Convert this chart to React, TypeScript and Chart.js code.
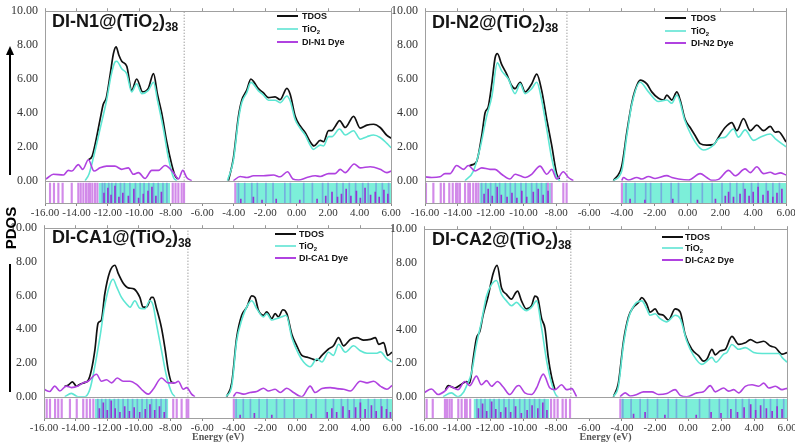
import React, { useEffect, useRef } from "react";
import { Chart, registerables } from "chart.js";
Chart.register(...registerables);

type Pt = [number, number | null];

const energyTicks = [-16, -14, -12, -10, -8, -6, -4, -2, 0, 2, 4, 6];
const pdosTicks = [0, 1, 2, 3, 4, 5, 6, 7, 8, 9, 10];

// ---------- DI-N1 ----------
const n1Tdos: Pt[] = [[-13.24,1.24],[-13.0,1.45],[-12.8,2.2],[-12.5,3.6],[-12.3,4.5],[-12.1,4.9],[-11.85,6.3],[-11.65,7.5],[-11.48,7.9],[-11.3,7.4],[-11.12,7.05],[-10.8,6.75],[-10.49,5.33],[-10.17,6.0],[-9.79,5.24],[-9.43,5.45],[-9.1,6.32],[-8.85,5.1],[-8.58,4.0],[-8.26,2.3],[-7.94,0.95],[-7.73,0.3],[-7.55,0.1],[-6,null],
[-4.34,0],[-4.02,1.33],[-3.7,3.8],[-3.49,4.75],[-3.17,5.35],[-2.91,6.0],[-2.7,5.8],[-2.43,5.43],[-2.11,5.18],[-1.79,4.9],[-1.37,4.95],[-1.05,4.78],[-0.62,5.45],[-0.41,5.1],[-0.09,3.8],[0.22,3.24],[0.54,2.85],[0.86,2.3],[1.1,2.05],[1.5,2.38],[1.71,2.3],[2.03,2.95],[2.24,2.95],[2.45,3.2],[2.73,3.55],[3.09,3.14],[3.62,3.8],[4.04,3.1],[4.47,3.28],[4.89,3.33],[5.31,3.14],[5.74,2.67],[6.0,2.51]];
const n1Ti: Pt[] = [[-13.45,0],[-13.2,0.4],[-12.93,1.33],[-12.5,3.05],[-12.08,4.76],[-11.8,6.2],[-11.55,7.0],[-11.44,7.05],[-11.12,6.6],[-10.8,6.3],[-10.49,5.24],[-10.17,5.71],[-9.85,5.14],[-9.43,5.33],[-9.1,5.81],[-8.85,4.76],[-8.47,3.05],[-8.15,1.33],[-7.83,0.19],[-7.62,0],[-6,null],
[-4.4,0],[-4.02,1.2],[-3.7,3.6],[-3.49,4.6],[-3.17,5.2],[-2.91,5.8],[-2.43,5.3],[-2.11,5.05],[-1.79,4.75],[-1.37,4.75],[-1.05,4.6],[-0.62,5.0],[-0.41,4.7],[-0.09,3.6],[0.22,3.1],[0.54,2.7],[0.86,2.1],[1.05,1.85],[1.5,2.1],[1.71,2.05],[2.03,2.6],[2.24,2.6],[2.73,3.05],[3.09,2.7],[3.62,2.95],[4.04,2.45],[4.47,2.6],[4.89,2.7],[5.31,2.55],[5.74,2.2],[6.0,1.95]];
const n1Dye: Pt[] = [[-16,0.08],[-15.89,0.13],[-15.47,0.38],[-14.83,0.34],[-14.52,0.61],[-14.3,0.57],[-13.88,0.95],[-13.6,0.67],[-13.24,1.24],[-12.88,0.57],[-12.5,0.76],[-12.08,0.86],[-11.55,0.86],[-11.12,0.67],[-10.7,0.76],[-10.38,0.38],[-10.06,0.48],[-9.64,0.13],[-9.21,0.61],[-8.79,0.61],[-8.37,0.9],[-7.83,0.48],[-7.52,0.1],[-7.24,0.61],[-6.99,0.19],[-6.67,0],[-5.5,null],
[-4.02,0],[-3.59,0.25],[-3.17,0.19],[-2.74,0.29],[-2.11,0.29],[-1.47,0.34],[-1.05,0.23],[-0.58,0.53],[-0.24,0.1],[0.12,0.04],[0.65,0.19],[1.18,0.29],[1.5,0.25],[2.03,0.42],[2.45,0.42],[2.77,0.67],[3.09,0.48],[3.66,0.99],[4.04,0.76],[4.68,0.82],[5.31,0.67],[5.74,0.48],[6.0,0.57]];
const n1DyeSticks = [-15.68,-15.43,-15.15,-14.88,-14.3,-13.88,-13.73,-13.56,-13.39,-13.24,-13.14,-12.99,-12.82,-12.67,-7.88,-7.7,-7.52,-7.31,-7.16,-3.9];
const n1Bands: [number, number][] = [[-12.6,-8.05],[-3.92,6.0]];
const n1Blue = [-12.35,-12.2,-11.95,-11.75,-11.5,-11.2,-10.95,-10.6,-10.25,-9.95,-9.7,-9.4,-9.1,-8.8,-8.5,-8.25,-3.7,-3.3,-2.85,-2.5,-1.95,-1.5,-0.75,-0.4,0.45,1.0,1.65,2.0,2.55,2.95,3.35,3.75,4.2,4.55,5.05,5.45,5.85];
const n1Bars: [number, number][] = [[-12.25,0.5],[-12.0,0.75],[-11.8,0.4],[-11.55,0.85],[-11.3,0.3],[-11.05,0.5],[-10.7,0.35],[-10.35,0.7],[-10.05,0.25],[-9.75,0.45],[-9.45,0.6],[-9.2,0.8],[-8.95,0.35],[-8.6,0.55],[-3.55,0.2],[-2.75,0.3],[-2.2,0.15],[-1.3,0.2],[0.2,0.15],[1.3,0.2],[1.85,0.35],[2.25,0.55],[2.6,0.3],[2.85,0.45],[3.15,0.7],[3.45,0.35],[3.8,0.6],[4.05,0.25],[4.35,0.75],[4.7,0.4],[5.0,0.55],[5.25,0.3],[5.55,0.65],[5.8,0.45]];

// ---------- DI-N2 ----------
const n2Tdos: Pt[] = [[-13.3,0.88],[-13.1,0.95],[-12.85,1.14],[-12.54,2.67],[-12.34,4.0],[-12.14,4.38],[-11.93,5.71],[-11.73,7.24],[-11.59,7.5],[-11.33,6.86],[-11.02,6.29],[-10.72,5.62],[-10.51,5.43],[-10.2,5.81],[-9.9,5.24],[-9.5,5.71],[-9.19,6.29],[-8.89,5.33],[-8.58,3.62],[-8.28,2.1],[-7.97,0.38],[-7.8,0.1],[-6,null],
[-4.52,0],[-4.01,0.86],[-3.7,2.86],[-3.4,4.57],[-3.2,5.33],[-2.89,5.94],[-2.48,5.71],[-2.18,5.24],[-1.77,4.86],[-1.47,4.76],[-1.26,5.05],[-0.96,4.76],[-0.65,5.24],[-0.45,4.76],[-0.15,3.62],[0.16,3.14],[0.46,2.67],[0.77,2.19],[1.17,2.1],[1.58,2.13],[1.89,2.57],[2.29,3.14],[2.7,3.43],[3.0,2.95],[3.41,3.66],[3.82,2.95],[4.22,3.28],[4.63,2.95],[5.04,3.2],[5.34,2.86],[5.54,2.9],[6.0,2.29]];
const n2Ti: Pt[] = [[-13.56,0],[-13.05,0.57],[-12.65,1.9],[-12.24,3.81],[-11.93,4.95],[-11.59,6.95],[-11.33,6.48],[-10.92,6.0],[-10.51,5.14],[-10.2,5.71],[-9.9,5.14],[-9.5,5.43],[-9.19,5.81],[-8.89,4.76],[-8.58,3.05],[-8.28,1.33],[-7.97,0.19],[-7.77,0],[-6,null],
[-4.52,0],[-4.01,0.57],[-3.7,2.67],[-3.4,4.48],[-2.89,5.81],[-2.38,5.24],[-1.77,4.67],[-1.26,4.76],[-0.96,4.57],[-0.65,5.05],[-0.15,3.52],[0.46,2.29],[0.97,1.81],[1.58,2.1],[1.89,2.48],[2.29,2.57],[2.8,3.05],[3.1,2.57],[3.51,3.0],[4.02,2.38],[4.43,2.57],[5.04,2.76],[5.34,2.48],[6.0,2.0]];
const n2Dye: Pt[] = [[-16,0.23],[-15.59,0.19],[-15.09,0.23],[-14.78,0.42],[-14.48,0.42],[-14.07,0.9],[-13.66,0.67],[-13.36,0.9],[-12.95,0.57],[-12.54,0.76],[-12.04,0.67],[-11.73,0.67],[-11.33,0.38],[-10.82,0.1],[-10.51,0.38],[-10.2,0.29],[-9.9,0.19],[-9.5,0.38],[-8.99,0.86],[-8.58,0.38],[-8.28,0.67],[-7.97,0.1],[-7.57,0.53],[-7.26,0.19],[-6.96,0],[-5.5,null],
[-4.01,0],[-3.91,0.19],[-3.6,0.04],[-3.09,0.19],[-2.79,0.1],[-2.38,0.25],[-1.98,0.13],[-1.26,0.3],[-0.96,0.19],[-0.55,0.1],[0.06,0.04],[0.77,0.42],[1.17,0.19],[1.48,0.02],[1.89,0.08],[2.5,0.61],[2.9,0.29],[3.51,0.7],[3.82,0.48],[4.22,0.82],[4.63,0.42],[5.04,0.5],[5.34,0.38],[5.65,0.46],[6.0,0.34]];
const n2DyeSticks = [-15.94,-15.49,-15.04,-14.84,-14.52,-14.31,-14.11,-14.01,-13.87,-13.56,-13.36,-13.26,-13.06,-12.89,-12.75,-8.5,-8.28,-7.57,-7.37,-4.0];
const n2Bands: [number, number][] = [[-12.69,-8.3],[-4.01,6.0]];
const n2Blue = [-12.55,-12.3,-12.0,-11.7,-11.45,-11.1,-10.8,-10.5,-10.15,-9.85,-9.5,-9.2,-8.9,-8.6,-3.75,-3.2,-2.55,-2.25,-1.6,-1.0,-0.55,0.2,0.9,1.5,2.1,2.6,3.0,3.4,3.9,4.3,4.8,5.2,5.6];
const n2Bars: [number, number][] = [[-12.4,0.45],[-12.15,0.7],[-11.9,0.35],[-11.6,0.8],[-11.35,0.4],[-11.0,0.3],[-10.7,0.5],[-10.4,0.25],[-10.1,0.6],[-9.8,0.3],[-9.4,0.55],[-9.1,0.7],[-8.8,0.4],[-8.5,0.6],[-3.5,0.2],[-2.6,0.15],[-0.9,0.2],[0.6,0.15],[1.7,0.2],[2.3,0.35],[2.5,0.55],[2.8,0.3],[3.2,0.45],[3.5,0.7],[3.75,0.35],[4.0,0.55],[4.3,0.8],[4.6,0.4],[4.9,0.6],[5.2,0.3],[5.45,0.5],[5.75,0.7]];

// ---------- DI-CA1 ----------
const c1Tdos: Pt[] = [[-14.7,0.6],[-14.45,0.7],[-14.2,0.88],[-13.95,0.62],[-13.7,0.75],[-13.4,0.85],[-13.21,0.96],[-13.0,1.59],[-12.79,2.73],[-12.58,4.36],[-12.37,4.55],[-12.16,6.08],[-11.84,7.41],[-11.52,7.8],[-11.31,7.32],[-11.0,6.75],[-10.68,6.46],[-10.32,6.4],[-9.94,5.89],[-9.73,5.31],[-9.52,5.31],[-9.2,5.89],[-9.1,5.89],[-8.88,5.22],[-8.57,4.07],[-8.36,2.92],[-8.15,1.59],[-7.93,0.85],[-7.75,0.82],[-6,null],
[-4.45,0],[-4.13,0.82],[-3.82,3.5],[-3.5,4.83],[-3.18,5.31],[-2.87,5.98],[-2.66,5.89],[-2.44,5.12],[-2.13,4.83],[-1.92,5.03],[-1.6,4.64],[-1.39,4.93],[-1.18,4.74],[-0.9,5.16],[-0.65,4.93],[-0.33,3.69],[-0.02,3.02],[0.3,2.45],[0.62,2.35],[0.93,2.25],[1.25,2.16],[1.57,2.45],[1.99,2.83],[2.3,3.02],[2.62,3.5],[2.94,3.02],[3.36,3.4],[3.78,3.5],[4.21,3.36],[4.63,3.4],[4.95,3.5],[5.16,3.11],[5.47,3.21],[5.73,2.45],[6.0,2.64]];
const c1Ti: Pt[] = [[-14.69,0],[-14.27,0.2],[-13.85,0],[-13.42,0],[-13.1,0.44],[-12.79,1.78],[-12.47,3.5],[-12.16,5.4],[-11.84,6.65],[-11.63,6.97],[-11.42,6.55],[-11.1,5.89],[-10.78,5.5],[-10.57,5.31],[-10.26,5.69],[-9.94,5.25],[-9.62,5.22],[-9.31,5.69],[-9.1,5.41],[-8.88,4.26],[-8.57,2.73],[-8.25,1.2],[-7.93,0.25],[-7.72,0],[-6,null],
[-4.49,0],[-4.13,0.63],[-3.82,3.31],[-3.5,4.55],[-3.08,5.5],[-2.87,5.69],[-2.55,5.22],[-2.13,4.74],[-1.92,4.93],[-1.6,4.55],[-1.28,4.64],[-0.97,4.74],[-0.69,4.83],[-0.33,3.5],[0.09,2.54],[0.41,2.06],[0.83,1.78],[1.25,2.25],[1.57,2.06],[1.99,2.64],[2.3,2.45],[2.62,3.11],[3.05,2.64],[3.57,3.02],[3.99,2.73],[4.42,2.58],[5.05,2.58],[5.26,2.66],[5.68,2.25],[6.0,2.06]];
const c1Dye: Pt[] = [[-16,0.44],[-15.64,0.31],[-15.32,0.63],[-15.0,0.34],[-14.59,0.63],[-14.27,0.54],[-13.85,0.63],[-13.53,0.82],[-13.21,0.92],[-12.68,1.33],[-12.37,0.92],[-12.05,1.01],[-11.73,0.82],[-11.37,1.11],[-11.0,0.92],[-10.57,0.92],[-10.15,0.73],[-9.73,0.34],[-9.41,0.15],[-9.1,0.44],[-8.57,1.11],[-8.15,0.82],[-7.72,0.82],[-7.51,0.92],[-7.19,0.44],[-6.98,0.54],[-6.67,0.15],[-6.46,0],[-5.5,null],
[-4.03,0],[-3.82,0.25],[-3.39,0.15],[-2.97,0.25],[-2.55,0.31],[-2.13,0.5],[-1.81,0.34],[-1.39,0.44],[-1.07,0.25],[-0.65,0.5],[-0.23,0.25],[0.3,0],[0.83,0.63],[1.14,0.25],[1.57,0.48],[2.1,0.54],[2.52,0.48],[2.94,0.44],[3.36,0.34],[3.99,0.92],[4.42,0.82],[4.84,0.92],[5.26,0.63],[5.68,0.44],[6.0,0.67]];
const c1DyeSticks = [-15.83,-15.62,-15.3,-15.1,-14.88,-14.36,-13.93,-13.52,-13.3,-13.09,-12.88,-7.83,-7.61,-7.3,-6.98,-6.88,-4.0];
const c1Bands: [number, number][] = [[-12.78,-8.14],[-4.03,6.0]];
const c1Blue = [-12.6,-12.35,-12.1,-11.85,-11.55,-11.3,-11.0,-10.7,-10.4,-10.1,-9.8,-9.5,-9.2,-8.9,-8.6,-8.3,-3.85,-3.4,-2.95,-2.4,-1.9,-1.3,-0.8,-0.2,0.6,1.2,1.8,2.3,2.8,3.2,3.6,4.0,4.5,4.9,5.3,5.7];
const c1Bars: [number, number][] = [[-12.5,0.5],[-12.25,0.8],[-12.0,0.4],[-11.75,0.9],[-11.5,0.5],[-11.2,0.3],[-10.9,0.6],[-10.6,0.35],[-10.3,0.55],[-9.95,0.3],[-9.6,0.45],[-9.3,0.7],[-9.0,0.4],[-8.7,0.6],[-8.4,0.3],[-3.6,0.15],[-2.7,0.25],[-1.6,0.15],[0.9,0.2],[1.9,0.3],[2.2,0.5],[2.5,0.3],[2.9,0.6],[3.3,0.4],[3.7,0.55],[4.0,0.8],[4.3,0.45],[4.7,0.65],[5.0,0.35],[5.35,0.6],[5.65,0.45],[5.9,0.3]];

// ---------- DI-CA2 ----------
const c2Tdos: Pt[] = [[-14.7,0.4],[-14.54,0.66],[-14.14,0.52],[-13.8,0.7],[-13.43,0.9],[-13.23,0.81],[-13.02,2.25],[-12.82,3.5],[-12.62,3.89],[-12.42,4.86],[-12.11,6.01],[-11.81,7.36],[-11.57,7.84],[-11.3,6.49],[-11.0,6.11],[-10.7,5.82],[-10.45,6.2],[-10.33,6.3],[-10.09,5.72],[-9.79,5.24],[-9.48,5.43],[-9.28,6.01],[-9.12,5.92],[-8.87,4.66],[-8.67,4.08],[-8.47,2.35],[-8.27,1.19],[-8.06,0.42],[-6,null],
[-4.52,0],[-4.22,0.81],[-3.91,3.31],[-3.61,4.76],[-3.31,5.34],[-3.0,5.63],[-2.8,5.92],[-2.5,5.53],[-2.3,5.05],[-1.99,5.24],[-1.79,4.95],[-1.49,4.86],[-1.18,4.57],[-0.78,5.24],[-0.47,5.05],[-0.17,3.7],[0.23,2.83],[0.64,2.45],[0.94,2.12],[1.15,2.25],[1.45,2.83],[1.65,2.5],[1.96,2.74],[2.26,2.83],[2.66,3.6],[3.07,3.12],[3.47,3.22],[3.78,3.41],[4.18,3.22],[4.59,3.31],[5.0,3.02],[5.3,2.93],[5.7,2.54],[6.0,2.64]];
const c2Ti: Pt[] = [[-14.85,0],[-14.34,0.23],[-13.94,0],[-13.63,0.23],[-13.43,0.62],[-13.13,1.39],[-12.82,3.12],[-12.52,4.47],[-12.21,6.01],[-11.91,6.69],[-11.61,6.94],[-11.3,6.11],[-11.0,5.72],[-10.7,5.43],[-10.39,5.63],[-10.09,5.34],[-9.79,5.14],[-9.48,5.34],[-9.18,5.72],[-8.87,4.08],[-8.57,2.16],[-8.27,0.81],[-7.96,0.04],[-7.86,0],[-6,null],
[-4.52,0],[-4.22,0.62],[-3.91,3.12],[-3.61,4.66],[-3.21,5.53],[-2.8,5.72],[-2.5,5.24],[-2.3,4.86],[-1.99,4.95],[-1.69,4.66],[-1.28,4.47],[-0.78,4.86],[-0.47,4.66],[-0.07,3.31],[0.34,2.45],[0.84,1.93],[1.15,2.12],[1.45,2.35],[1.69,2.06],[2.16,2.54],[2.36,2.64],[2.66,3.12],[3.07,2.83],[3.47,2.93],[3.98,2.64],[4.49,2.58],[5.09,2.58],[5.5,2.58],[5.7,2.35],[6.0,2.06]];
const c2Dye: Pt[] = [[-16,0.23],[-15.55,0.46],[-15.15,0.13],[-14.74,0.33],[-14.44,0.62],[-13.94,0.42],[-13.53,0.91],[-13.23,0.66],[-12.82,1.23],[-12.52,0.71],[-12.21,0.96],[-11.91,0.62],[-11.55,0.91],[-11.2,0.58],[-10.8,0.13],[-10.39,0.62],[-10.25,0.67],[-9.89,0.23],[-9.48,0.13],[-9.18,0.52],[-8.77,1.35],[-8.37,0.52],[-8.06,0.42],[-7.66,0.71],[-7.36,0.42],[-7.05,0.48],[-6.75,0],[-5.5,null],
[-4.12,0],[-3.81,0.23],[-3.51,0.04],[-3.1,0.13],[-2.7,0.29],[-2.19,0.29],[-1.79,0.13],[-1.28,0.19],[-0.78,0.42],[-0.47,0.08],[-0.07,0],[0.54,0.23],[0.94,0.29],[1.35,0.66],[1.65,0.29],[2.16,0.52],[2.46,0.33],[2.77,0.42],[3.07,0.23],[3.47,0.62],[3.88,0.71],[4.28,0.62],[4.59,0.81],[4.89,0.52],[5.3,0.62],[5.7,0.42],[6.0,0.5]];
const c2DyeSticks = [-15.84,-15.47,-14.73,-14.6,-14.45,-14.32,-13.92,-13.72,-13.51,-13.41,-13.2,-8.3,-8.1,-7.9,-7.6,-7.4,-7.15,-4.1];
const c2Bands: [number, number][] = [[-13.0,-8.4],[-4.12,6.0]];
const c2Blue = [-12.8,-12.55,-12.3,-12.0,-11.75,-11.45,-11.15,-10.85,-10.55,-10.2,-9.9,-9.6,-9.3,-9.0,-8.7,-3.95,-3.45,-2.9,-2.45,-1.85,-1.2,-0.7,-0.1,0.7,1.3,1.9,2.4,2.9,3.3,3.7,4.1,4.6,5.0,5.4,5.8];
const c2Bars: [number, number][] = [[-12.7,0.5],[-12.45,0.75],[-12.2,0.35],[-11.9,0.85],[-11.65,0.45],[-11.35,0.3],[-11.05,0.55],[-10.75,0.3],[-10.45,0.6],[-10.1,0.25],[-9.75,0.4],[-9.45,0.65],[-9.1,0.5],[-8.8,0.8],[-8.55,0.4],[-3.3,0.2],[-2.6,0.3],[-1.4,0.15],[0.5,0.15],[1.4,0.3],[2.0,0.25],[2.6,0.45],[3.0,0.3],[3.4,0.55],[3.8,0.7],[4.1,0.4],[4.4,0.65],[4.75,0.5],[5.1,0.35],[5.4,0.6],[5.7,0.45]];

const fermiLevels = { n1: -7.15, n2: -7.35, c1: -6.9, c2: -7.1 };

const C_TDOS = "#111111";
const C_TI = "#5ee6d3";
const C_DYE = "#b042e0";
const C_BAND = "#7cefd9";
const C_STICK = "#d28ae9";
const C_BLUE = "rgba(110,120,225,0.55)";
const C_BAR = "#9435d4";
const C_FRAME = "#a0a0a0";
const SERIF = "'Liberation Serif', 'Times New Roman', serif";
const SANS = "'Liberation Sans', Arial, sans-serif";

type PanelCfg = {
  dyeName: string;
  tdos: Pt[]; ti: Pt[]; dye: Pt[];
  fermi: number;
  sticks: number[]; bands: [number, number][]; blue: number[]; bars: [number, number][];
  cx: number; cy: number; cw: number; ch: number;
  axisW: number; wPlot: number; wStrip: number; xH: number; energyTitle: boolean;
  titleX: number; titleBase: number;
  legX: number; legTextX: number; legY: number[];
};

const xy = (a: Pt[]) => a.map(([x, y]) => ({ x, y }));

const framePlugin = {
  id: "frame",
  afterDatasetsDraw(chart: any) {
    const { ctx, chartArea, scales } = chart;
    ctx.save();
    ctx.strokeStyle = C_FRAME;
    ctx.lineWidth = 1;
    const l = Math.round(chartArea.left) + 0.5;
    const w = Math.round(chartArea.right) - Math.round(chartArea.left);
    for (const id of ["y", "y2"]) {
      const s = scales[id];
      ctx.strokeRect(l, Math.round(s.top) + 0.5, w, Math.round(s.bottom) - Math.round(s.top));
    }
    ctx.restore();
  },
};

function Panel({ cfg }: { cfg: PanelCfg }) {
  const ref = useRef<HTMLCanvasElement>(null);
  useEffect(() => {
    const lineBase = { pointRadius: 0, cubicInterpolationMode: "monotone", spanGaps: false, fill: false, yAxisID: "y" };
    const datasets: any[] = [
      { type: "line", label: "Dye", data: xy(cfg.dye), borderColor: C_DYE, borderWidth: 1.6, order: 1, ...lineBase },
      { type: "line", label: "TiO2", data: xy(cfg.ti), borderColor: C_TI, borderWidth: 1.6, order: 2, ...lineBase },
      { type: "line", label: "TDOS", data: xy(cfg.tdos), borderColor: C_TDOS, borderWidth: 1.7, order: 3, ...lineBase },
      { type: "line", label: "Fermi", data: [{ x: cfg.fermi, y: 0 }, { x: cfg.fermi, y: 10 }], borderColor: "#777", borderWidth: 1, borderDash: [1, 2], pointRadius: 0, yAxisID: "y", order: 4 },
      { type: "bar", label: "pdos", data: cfg.bars.map(([x, y]) => ({ x, y })), backgroundColor: C_BAR, barThickness: 1, grouped: false, yAxisID: "y2", order: 5 },
      { type: "bar", label: "blue", data: cfg.blue.map((x) => ({ x, y: 1 })), backgroundColor: C_BLUE, barThickness: 1, grouped: false, yAxisID: "y2", order: 6 },
      { type: "bar", label: "sticks", data: cfg.sticks.map((x) => ({ x, y: 1 })), backgroundColor: C_STICK, barThickness: 1.5, grouped: false, yAxisID: "y2", order: 7 },
      ...cfg.bands.map(([a, b], i) => ({ type: "line", label: "band" + i, data: [{ x: a, y: 1 }, { x: b, y: 1 }], borderWidth: 0, borderColor: C_BAND, backgroundColor: C_BAND, fill: "origin", pointRadius: 0, yAxisID: "y2", order: 8 })),
    ];
    const chart = new Chart(ref.current!, {
      type: "line",
      data: { datasets },
      plugins: [framePlugin],
      options: {
        responsive: false,
        animation: false,
        events: [],
        layout: { padding: { top: 8, right: 18, left: 0, bottom: 0 } },
        plugins: { legend: { display: false }, tooltip: { enabled: false } },
        scales: {
          x: {
            type: "linear", position: "bottom", min: -16, max: 6, offset: false,
            afterBuildTicks: (s: any) => { s.ticks = energyTicks.map((v) => ({ value: v })); },
            ticks: { callback: (v: any) => Number(v).toFixed(2), font: { family: SERIF, size: 11 }, color: "#333", maxRotation: 0, autoSkip: false, padding: 1 },
            grid: { drawOnChartArea: false, drawTicks: true, tickLength: 3, color: "#888", offset: false },
            border: { display: false },
            title: { display: cfg.energyTitle, text: "Energy (eV)", font: { family: SERIF, size: 10, weight: "bold" }, color: "#555", padding: { top: 0, bottom: 2 } },
            afterFit: (s: any) => { s.height = cfg.xH; },
          },
          x2: {
            type: "linear", position: "top", min: -16, max: 6, offset: false,
            afterBuildTicks: (s: any) => { s.ticks = energyTicks.map((v) => ({ value: v })); },
            ticks: { display: false },
            grid: { drawOnChartArea: false, drawTicks: true, tickLength: 3, color: "#999", offset: false },
            border: { display: false },
            afterFit: (s: any) => { s.height = 0; },
          },
          y2: {
            type: "linear", position: "left", min: 0, max: 1.12, stack: "p", stackWeight: cfg.wStrip, offset: false,
            ticks: { display: false },
            grid: { display: false, drawTicks: false },
            border: { display: false },
            afterFit: (s: any) => { s.width = cfg.axisW; },
          },
          y: {
            type: "linear", position: "left", min: 0, max: 10, stack: "p", stackWeight: cfg.wPlot,
            afterBuildTicks: (s: any) => { s.ticks = pdosTicks.map((v) => ({ value: v })); },
            ticks: { callback: (v: any) => Number(v).toFixed(2), font: { family: SERIF, size: 12 }, color: "#333", padding: 7 },
            grid: { display: false, drawTicks: false },
            border: { display: false },
            afterFit: (s: any) => { s.width = cfg.axisW; },
          },
        },
      } as any,
    });
    return () => chart.destroy();
  }, []);
  return <canvas ref={ref} width={cfg.cw} height={cfg.ch} style={{ position: "absolute", left: cfg.cx, top: cfg.cy }} />;
}

function Title({ name, x, base }: { name: string; x: number; base: number }) {
  const sub = { fontSize: 12, position: "relative" as const, top: 4 };
  return (
    <div style={{ position: "absolute", left: x, top: base - 15, font: `bold 18px ${SANS}`, lineHeight: "18px", color: "#151515", whiteSpace: "nowrap" }}>
      {name}@(TiO<span style={sub}>2</span>)<span style={sub}>38</span>
    </div>
  );
}

function Legend({ cfg }: { cfg: PanelCfg }) {
  const rows = [
    { c: C_TDOS, t: <>TDOS</> },
    { c: "#7fe9dc", t: <>TiO<span style={{ fontSize: 6, position: "relative", top: 2 }}>2</span></> },
    { c: C_DYE, t: <>{cfg.dyeName} Dye</> },
  ];
  return (
    <>
      {rows.map((r, i) => (
        <React.Fragment key={i}>
          <div style={{ position: "absolute", left: cfg.legX, top: cfg.legY[i] - 1, width: 21, height: 2, background: r.c }} />
          <div style={{ position: "absolute", left: cfg.legTextX, top: cfg.legY[i] - 6, font: `bold 9px ${SANS}`, lineHeight: "12px", color: "#111", whiteSpace: "nowrap" }}>{r.t}</div>
        </React.Fragment>
      ))}
    </>
  );
}

const panels: PanelCfg[] = [
  { dyeName: "DI-N1", tdos: n1Tdos, ti: n1Ti, dye: n1Dye, fermi: fermiLevels.n1, sticks: n1DyeSticks, bands: n1Bands, blue: n1Blue, bars: n1Bars,
    cx: 0, cy: -3, cw: 409, ch: 225, axisW: 45, wPlot: 175, wStrip: 23, xH: 19, energyTitle: false,
    titleX: 52, titleBase: 27, legX: 277, legTextX: 302, legY: [16, 29, 42] },
  { dyeName: "DI-N2", tdos: n2Tdos, ti: n2Ti, dye: n2Dye, fermi: fermiLevels.n2, sticks: n2DyeSticks, bands: n2Bands, blue: n2Blue, bars: n2Bars,
    cx: 385, cy: -3, cw: 419, ch: 225, axisW: 40, wPlot: 175, wStrip: 23, xH: 19, energyTitle: false,
    titleX: 432, titleBase: 28, legX: 665, legTextX: 691, legY: [18, 31, 43] },
  { dyeName: "DI-CA1", tdos: c1Tdos, ti: c1Ti, dye: c1Dye, fermi: fermiLevels.c1, sticks: c1DyeSticks, bands: c1Bands, blue: c1Blue, bars: c1Bars,
    cx: 0, cy: 214, cw: 410, ch: 231, axisW: 44, wPlot: 174, wStrip: 22, xH: 27, energyTitle: true,
    titleX: 52, titleBase: 243, legX: 275, legTextX: 299, legY: [234, 246, 258] },
  { dyeName: "DI-CA2", tdos: c2Tdos, ti: c2Ti, dye: c2Dye, fermi: fermiLevels.c2, sticks: c2DyeSticks, bands: c2Bands, blue: c2Blue, bars: c2Bars,
    cx: 384, cy: 215, cw: 421, ch: 230, axisW: 40, wPlot: 173, wStrip: 22, xH: 27, energyTitle: true,
    titleX: 432, titleBase: 245, legX: 662, legTextX: 685, legY: [237, 248, 260] },
];

export default function App() {
  return (
    <div style={{ position: "fixed", left: 0, top: 0, width: 795, height: 445, overflow: "hidden", background: "#fff" }}>
      {panels.map((p, i) => <Panel key={i} cfg={p} />)}
      {panels.map((p, i) => (
        <React.Fragment key={"o" + i}>
          <Title name={p.dyeName} x={p.titleX} base={p.titleBase} />
          <Legend cfg={p} />
        </React.Fragment>
      ))}
      <div style={{ position: "absolute", left: 9, top: 54, width: 2, height: 121, background: "#000" }} />
      <div style={{ position: "absolute", left: 6, top: 46, width: 0, height: 0, borderLeft: "4px solid transparent", borderRight: "4px solid transparent", borderBottom: "9px solid #000" }} />
      <div style={{ position: "absolute", left: 10, top: 228, transform: "translate(-50%, -50%) rotate(-90deg)", font: `bold 15px ${SANS}`, color: "#000", whiteSpace: "nowrap" }}>PDOS</div>
      <div style={{ position: "absolute", left: 9, top: 264, width: 2, height: 128, background: "#000" }} />
    </div>
  );
}
